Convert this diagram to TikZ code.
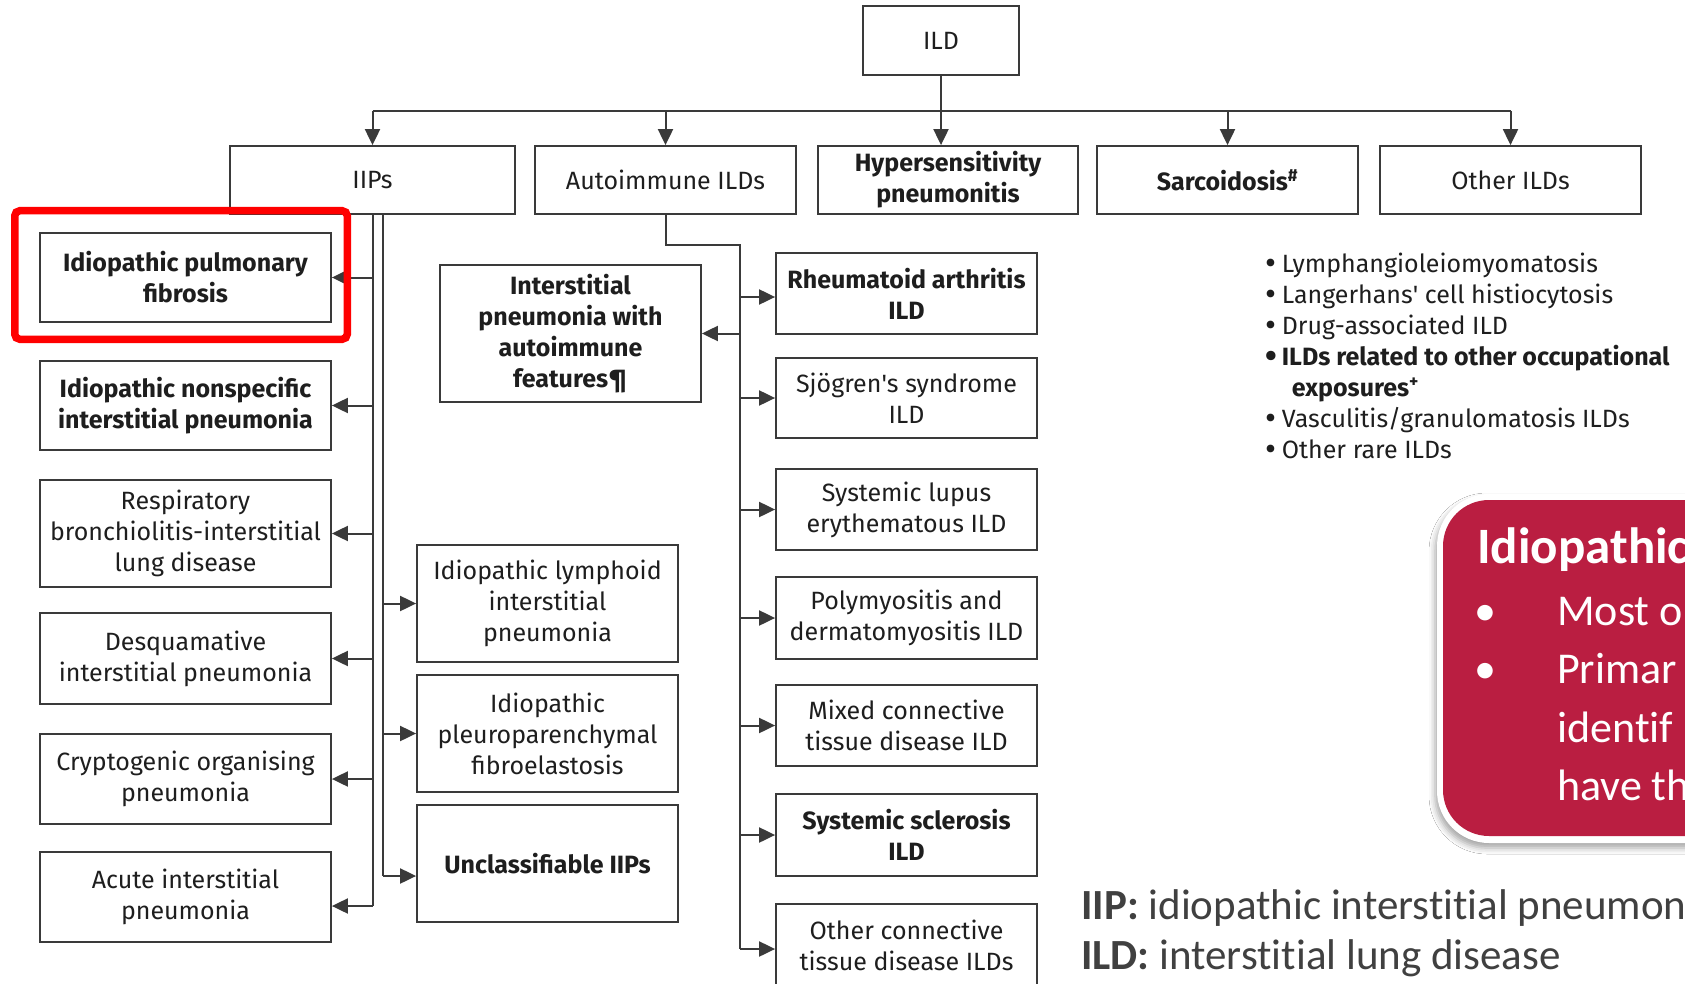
\documentclass[tikz,border=0pt]{standalone}
\usepackage{fontspec}
\setmainfont{Fira Sans}
\newfontfamily\calib[Ligatures=NoCommon]{Carlito}
\usetikzlibrary{arrows.meta,shadows.blur}
\definecolor{ln}{HTML}{3A3A3A}
\definecolor{tx}{HTML}{1E1E1E}
\definecolor{crim}{HTML}{BA1E41}
\definecolor{leg}{HTML}{404040}
\newcommand{\bul}{\raisebox{-1.5pt}{\scalebox{1.35}{•}}}
\begin{document}
\begin{tikzpicture}[x=1pt,y=-1pt,
  box/.style={draw=ln, line width=1.8pt, inner sep=0pt, align=center, text=tx, font=\fontsize{25}{31}\selectfont},
  bbox/.style={box, font=\fontsize{25}{31}\selectfont\bfseries},
  conn/.style={draw=ln, line width=2pt},
  arr/.style={conn, -{Triangle[length=16pt,width=15pt]}},
  sz/.style 2 args={minimum width=#1pt, minimum height=#2pt},
]
\useasboundingbox (0,0) rectangle (1685,984);
\fill[white] (0,0) rectangle (1685,984);

% top level
\node[box, sz={156}{69}] (ild) at (941,40.5) {ILD};
\node[box, sz={285}{68}] (iips) at (372.5,180) {IIPs};
\node[box, sz={261}{68}] (auto) at (665.5,180) {Autoimmune ILDs};
\node[bbox, sz={260}{68}] (hp) at (948,180) {Hypersensitivity\\pneumonitis};
\node[bbox, sz={261}{68}] (sarc) at (1227.5,180) {Sarcoidosis\textsuperscript{\#}};
\node[box, sz={261}{68}] (oth) at (1510.5,180) {Other ILDs};

% IIPs left column
\node[bbox, sz={291}{89}] (ipf) at (185.5,277.5) {Idiopathic pulmonary\\fibrosis};
\node[bbox, sz={291}{89}] (nsip) at (185.5,405.5) {Idiopathic nonspecific\\interstitial pneumonia};
\node[box, sz={291}{107}] (rb) at (185.5,533.5) {Respiratory\\bronchiolitis-interstitial\\lung disease};
\node[box, sz={291}{91}] (dip) at (185.5,658.5) {Desquamative\\interstitial pneumonia};
\node[box, sz={291}{90}] (cop) at (185.5,779) {Cryptogenic organising\\pneumonia};
\node[box, sz={291}{90}] (aip) at (185.5,897) {Acute interstitial\\pneumonia};

% IIPs middle column
\node[box, sz={261}{117}] (lip) at (547.5,603.5) {Idiopathic lymphoid\\interstitial\\pneumonia};
\node[box, sz={261}{117}] (ppfe) at (547.5,733.5) {Idiopathic\\pleuroparenchymal\\fibroelastosis};
\node[bbox, sz={261}{117}] (uncl) at (547.5,863.5) {Unclassifiable IIPs};

% autoimmune
\node[bbox, sz={261}{137}] (ipaf) at (570.5,333.5) {Interstitial\\pneumonia with\\autoimmune\\features¶};
\node[bbox, sz={261}{81}] (ra) at (906.5,293.5) {Rheumatoid arthritis\\ILD};
\node[box, sz={261}{80}] (sj) at (906.5,398) {Sjögren\textquotesingle s syndrome\\ILD};
\node[box, sz={261}{81}] (sle) at (906.5,509.5) {Systemic lupus\\erythematous ILD};
\node[box, sz={261}{82}] (pm) at (906.5,618) {Polymyositis and\\dermatomyositis ILD};
\node[box, sz={261}{81}] (mctd) at (906.5,725.5) {Mixed connective\\tissue disease ILD};
\node[bbox, sz={261}{82}] (ssc) at (906.5,835) {Systemic sclerosis\\ILD};
\node[box, sz={261}{82}] (octd) at (906.5,945) {Other connective\\tissue disease ILDs};

% other ILDs list
\node[anchor=north west, inner sep=0pt, text=tx, font=\fontsize{25}{31}\selectfont, align=left] (list) at (1265,251) {%
\begin{tabular}{@{}l@{\hspace{5pt}}l@{}}
\bul&Lymphangioleiomyomatosis\\
\bul&Langerhans\textquotesingle{} cell histiocytosis\\
\bul&Drug-associated ILD\\
\textbf{\bul}&\textbf{ILDs related to other occupational}\\
&\hspace{10pt}\textbf{exposures\textsuperscript{+}}\\
\bul&Vasculitis/granulomatosis ILDs\\
\bul&Other rare ILDs
\end{tabular}};

% connectors from ILD
\coordinate (bus) at (0,111);
\draw[conn] (iips.north |- bus) -- (oth.north |- bus);
\draw[arr] (iips.north |- bus) -- (iips.north);
\draw[arr] (auto.north |- bus) -- (auto.north);
\draw[arr] (ild.south) -- (ild.south |- hp.north);
\draw[arr] (sarc.north |- bus) -- (sarc.north);
\draw[arr] (oth.north |- bus) -- (oth.north);

% IIPs connectors
\coordinate (lv) at (iips.south);
\coordinate (rv) at ([xshift=10pt]iips.south);
\draw[conn] (lv) -- (lv |- 0,906);
\draw[conn] (rv) -- (rv |- 0,876);
\draw[arr] (lv |- ipf.east) -- (ipf.east);
\draw[arr] (lv |- nsip.east) -- (nsip.east);
\draw[arr] (lv |- rb.east) -- (rb.east);
\draw[arr] (lv |- dip.east) -- (dip.east);
\draw[arr] (lv |- cop.east) -- (cop.east);
\draw[arr] (lv |- 0,906) -- (aip.east |- 0,906);
\draw[arr] (rv |- lip.west) -- (lip.west);
\draw[arr] (rv |- ppfe.west) -- (ppfe.west);
\draw[arr] (rv |- 0,876) -- (uncl.west |- 0,876);

% autoimmune connectors
\coordinate (av) at (740,245);
\draw[conn] (auto.south) |- (av) -- (av |- 0,949);
\draw[arr] (av |- ipaf.east) -- (ipaf.east);
\draw[arr] (av |- 0,297) -- (ra.west |- 0,297);
\draw[arr] (av |- sj.west) -- (sj.west);
\draw[arr] (av |- sle.west) -- (sle.west);
\draw[arr] (av |- pm.west) -- (pm.west);
\draw[arr] (av |- mctd.west) -- (mctd.west);
\draw[arr] (av |- ssc.west) -- (ssc.west);
\draw[arr] (av |- 0,949) -- (octd.west |- 0,949);

% red highlight
\draw[red, line width=7.5pt, rounded corners=5pt] (14.75,210.75) rectangle (347.25,339.25);

% callout
\path[fill=white, rounded corners=52pt, blur shadow={shadow xshift=-2pt, shadow yshift=-5pt, shadow blur radius=6pt, shadow opacity=35}] (1437,494) rectangle (1760,843);
\path[fill=crim, rounded corners=46pt] (1443,500) rectangle (1760,836);
\node[anchor=base west, inner sep=0pt, text=white, font=\calib\fontsize{51}{58}\selectfont\bfseries] (chead) at (1477,563) {Idiopathic};
\node[anchor=base west, inner sep=0pt, text=white, font=\calib\fontsize{44}{58}\selectfont] (b1) at (1474,625) {•};
\node[anchor=base west, inner sep=0pt, text=white, font=\calib\fontsize{44}{58}\selectfont] (b2) at (1474,683) {•};
\node[anchor=base west, inner sep=0pt, text=white, font=\calib\fontsize{44}{58}\selectfont] (l1) at (1557,625) {Most o};
\node[anchor=base west, inner sep=0pt, text=white, font=\calib\fontsize{44}{58}\selectfont] (l2) at (1557,683) {Primar};
\node[anchor=base west, inner sep=0pt, text=white, font=\calib\fontsize{44}{58}\selectfont] (l3) at (1557,742) {identif};
\node[anchor=base west, inner sep=0pt, text=white, font=\calib\fontsize{44}{58}\selectfont] (l4) at (1557,800) {have th};

% legend
\node[anchor=base west, inner sep=0pt, text=leg, font=\calib\fontsize{43}{50}\selectfont] (leg1) at (1081,919) {\textbf{IIP:} idiopathic interstitial pneumon};
\node[anchor=base west, inner sep=0pt, text=leg, font=\calib\fontsize{43}{50}\selectfont] (leg2) at (1081,969) {\textbf{ILD:} interstitial lung disease};
\end{tikzpicture}
\end{document}
